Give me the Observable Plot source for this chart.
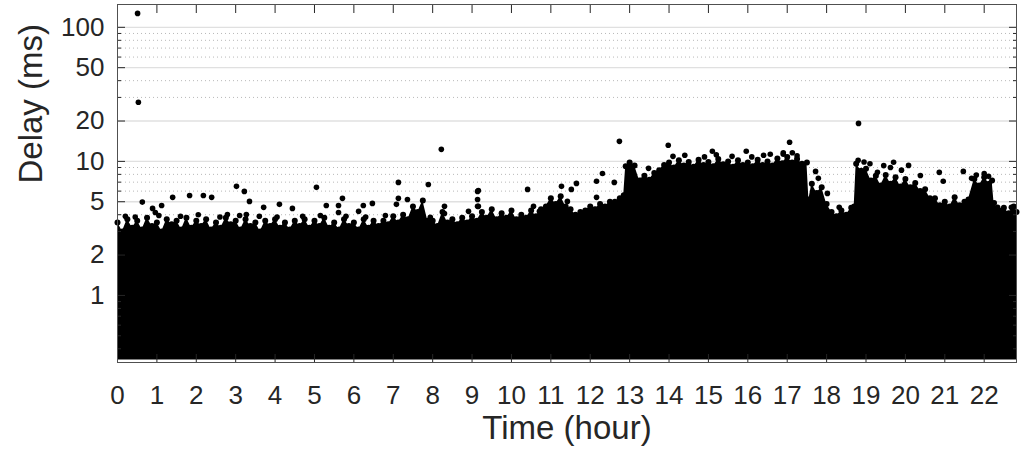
<!DOCTYPE html>
<html><head><meta charset="utf-8">
<script src="https://cdn.jsdelivr.net/npm/d3@7"></script>
<script src="https://cdn.jsdelivr.net/npm/@observablehq/plot@0.6"></script>
<style>body{margin:0;background:#fff;overflow:hidden}</style>
</head><body><div id="chart"></div>
<script>
// Upper edge of the dense band of delay samples (hours, ms)
const envTime = [0,0.125,0.25,0.375,0.5,0.625,0.75,0.875,1,1.125,1.25,1.375,1.5,1.625,1.75,1.875,2,2.125,2.25,2.375,2.5,2.625,2.75,2.875,3,3.125,3.25,3.375,3.5,3.625,3.75,3.875,4,4.125,4.25,4.375,4.5,4.625,4.75,4.875,5,5.125,5.25,5.375,5.5,5.625,5.75,5.875,6,6.125,6.25,6.375,6.5,6.625,6.75,6.875,7,
  7.125,7.25,7.375,7.5,7.625,7.75,7.875,8,8.125,8.25,8.375,8.5,8.625,8.75,8.875,9,9.125,9.25,9.375,9.5,9.625,9.75,9.875,10,10.125,10.25,10.375,10.5,10.625,10.75,10.875,11,11.125,11.25,11.375,11.5,11.625,11.75,11.875,12,12.125,12.25,12.375,12.5,12.625,12.75,12.85,
  12.9,13,13.125,13.25,13.375,13.5,13.625,13.75,13.875,14,14.125,14.25,14.375,14.5,14.625,14.75,14.875,15,15.125,15.25,15.375,15.5,15.625,15.75,15.875,16,16.125,16.25,16.375,16.5,16.625,16.75,16.875,17,17.125,17.25,17.375,17.5,
  17.55,17.625,17.75,17.875,18,18.125,18.25,18.375,18.5,18.625,18.7,
  18.75,18.875,19,19.125,19.25,19.375,19.5,19.625,19.75,19.875,20,20.125,20.25,20.375,20.5,20.625,20.75,20.875,21,21.125,21.25,21.375,21.5,21.6,
  21.75,21.875,22,22.125,22.2,22.25,22.375,22.5,22.625,22.75,22.82];
const envDelay = [3.5,3.0,3.7,3.2,3.6,3.1,3.8,3.3,3.5,3.0,3.7,3.4,3.6,3.1,3.8,3.2,3.6,3.3,3.7,3.1,3.5,3.2,3.8,3.4,3.6,3.1,3.7,3.3,3.5,3.0,3.6,3.3,3.7,3.2,3.5,3.1,3.6,3.3,3.7,3.2,3.6,3.3,3.8,3.2,3.5,3.1,3.7,3.3,3.5,3.1,3.7,3.2,3.6,3.3,3.6,3.4,3.9,
  3.5,4.0,3.7,4.6,4.2,5.1,3.6,3.6,3.3,4.2,3.5,3.7,3.4,3.8,3.5,3.9,3.6,4.2,3.8,4.4,3.7,4.1,3.8,4.3,3.7,4.0,3.8,4.3,3.9,4.4,4.6,5.3,4.8,5.5,4.6,4.4,4.0,4.2,4.3,4.6,4.4,4.8,4.6,5.0,5.0,5.3,5.6,
  9.2,9.8,9.3,7.2,7.8,7.3,8.2,8.6,9.4,9.8,9.0,10.2,9.3,9.9,9.1,10.3,9.4,9.9,9.2,10.4,9.5,10.0,9.1,10.2,9.4,9.8,9.2,10.3,9.4,10.0,9.3,10.5,9.7,10.8,9.8,10.4,9.6,9.8,
  5.2,6.8,5.8,6.4,4.8,4.2,3.9,4.3,4.0,4.5,4.6,
  9.6,8.5,8.8,7.2,7.8,6.6,7.9,6.8,7.6,6.5,7.4,6.4,6.9,6.0,6.2,5.3,5.3,4.7,5.0,4.6,5.4,4.7,5.0,5.2,
  7.4,6.6,7.6,6.8,7.2,4.9,4.3,4.5,4.1,4.6,4.2];
// Individual samples standing out above the band (hours, ms)
const outTime = [0.51,0.53,0.63,0.89,0.96,1.12,1.4,1.83,2.18,2.39,3.02,3.22,3.35,2.79,3.27,3.71,4.11,4.44,
  8.22,5.05,7.13,7.89,9.14,5.3,5.61,5.71,6.24,6.47,6.12,5.61,7.13,7.36,7.08,8.3,8.3,9.14,9.14,8.91,7.94,
  12.74,10.41,11.27,11.65,11.52,12.16,12.31,12.61,13.3,13.48,10.56,10.71,11.42,12.16,12.11,9.16,9.16,
  13.98,15.1,15.96,16.57,17.06,16.9,17.13,17.72,18.02,17.79,18.32,
  18.81,19.7,20.08,20.86,20.96,21.47,21.68,22.11,22.34,22.69,20.38,19.29,19.62,
  0.2,0.45,1.05,1.6,2.05,2.6,3.1,3.6,4.05,4.7,5.15,5.8,6.3,6.8,
  14.1,14.4,14.9,15.2,15.6,16.1,16.4,16.9,17.25,18.8,18.95,19.1,19.45,19.9,21.8,22.0];
const outDelay = [127,27.6,4.97,4.46,4.16,4.69,5.39,5.57,5.57,5.39,6.51,5.97,5.03,4.02,4.02,4.54,4.78,4.46,
  12.3,6.4,6.97,6.73,5.97,4.69,4.69,5.3,4.69,4.86,4.24,4.16,5.3,5.2,4.78,4.62,4.09,5.2,4.62,4.24,3.82,
  14.1,6.18,6.51,6.85,6.18,7.1,8.13,6.97,7.21,8.87,4.62,4.24,5.03,5.39,4.38,6.07,4.62,
  13.2,11.9,11.9,11.3,13.9,11.6,11.6,8.42,5.77,7.47,4.54,
  19.2,9.84,9.33,8.28,7.1,8.42,7.47,7.73,4.54,4.54,7.85,8.28,9.0,
  3.9,3.85,3.95,3.9,4.0,3.85,3.95,3.9,3.85,3.9,3.95,3.9,3.85,3.95,
  10.9,11.1,10.8,11.2,10.9,10.8,11.1,11.3,11.0,10.2,9.9,9.6,9.3,8.6,7.9,8.1];
const bandFloor = 0.33;
const yMajorTicks = [1,2,5,10,20,50,100];
const yMinorTicks = [0.4,0.5,0.6,0.7,0.8,0.9,3,4,6,7,8,9,30,40,60,70,80,90];
const xTicks = [0,1,2,3,4,5,6,7,8,9,10,11,12,13,14,15,16,17,18,19,20,21,22];
const xLabel = "Time (hour)";
const yLabel = "Delay (ms)";

const env = envTime.map((t, i) => ({t, v: envDelay[i]}));
const outs = outTime.map((t, i) => ({t, v: outDelay[i]}));
const ink = "#262626";
const tickOnly = (data, anchor, size) => (anchor === "left" || anchor === "right"
  ? Plot.axisY(data, {anchor, tickSize: -size, stroke: ink, fill: "none", label: null})
  : Plot.axisX(data, {anchor, tickSize: -size, stroke: ink, fill: "none", label: null}));

const chart = Plot.plot({
  width: 1022, height: 459,
  marginLeft: 117, marginRight: 6, marginTop: 4, marginBottom: 97,
  style: {fontFamily: "'Liberation Sans', Arial, sans-serif", background: "#fff", color: ink},
  x: {domain: [0, 22.82], axis: null},
  y: {type: "log", domain: [0.316, 148], axis: null},
  marks: [
    Plot.ruleY(yMinorTicks, {stroke: "#b8b8b8", strokeDasharray: "1,3", strokeWidth: 1}),
    Plot.ruleY(yMajorTicks, {stroke: "#e0e0e0", strokeWidth: 1.3}),
    Plot.areaY(env, {x: "t", y1: () => bandFloor, y2: "v", fill: "black"}),
    Plot.dot(env, {x: "t", y: "v", r: 3, fill: "black"}),
    Plot.dot(outs, {x: "t", y: "v", r: 2.8, fill: "black"}),
    tickOnly(yMinorTicks, "left", 4),
    tickOnly(yMinorTicks, "right", 4),
    tickOnly(yMajorTicks, "left", 8),
    tickOnly(yMajorTicks, "right", 8),
    tickOnly(xTicks, "bottom", 8),
    tickOnly(xTicks, "top", 8),
    Plot.text(yMajorTicks, {y: d => d, text: d => String(d), frameAnchor: "left", textAnchor: "end", dx: -13, fontSize: 26, fill: ink}),
    Plot.axisX(xTicks, {anchor: "bottom", tickSize: 0, tickPadding: 23, fontSize: 26, fill: ink, label: null, tickFormat: d => String(d)}),
    Plot.frame({stroke: "#505050"}),
    Plot.text([xLabel], {frameAnchor: "bottom", dy: 76, fontSize: 33, fill: ink}),
    Plot.text([yLabel], {frameAnchor: "left", rotate: -90, dx: -86, fontSize: 33, fill: ink})
  ]
});
document.getElementById("chart").append(chart);
</script>
</body></html>
